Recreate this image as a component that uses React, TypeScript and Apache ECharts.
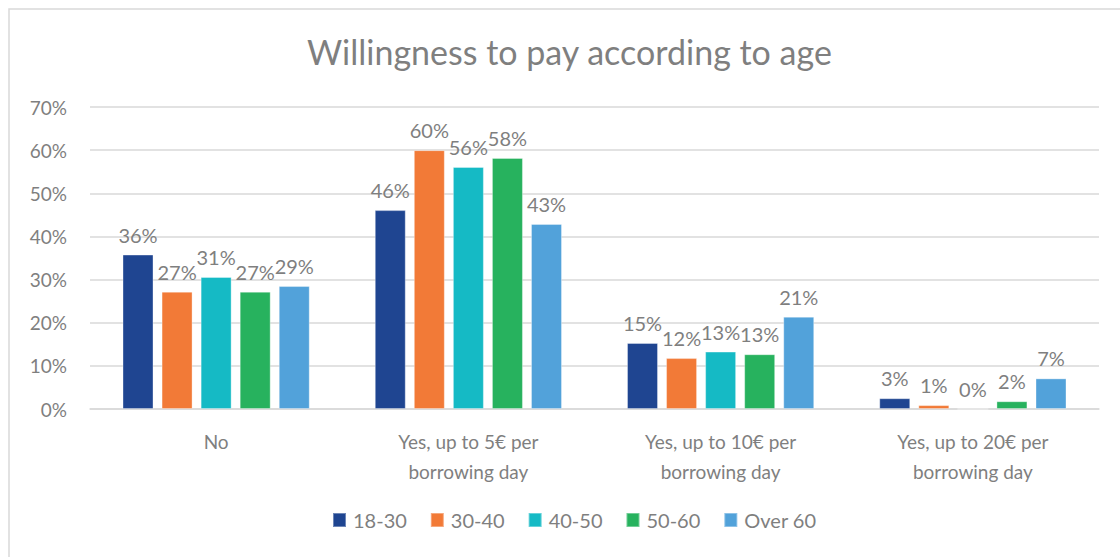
import React, { useEffect, useRef } from "react";
import * as echarts from "echarts";

const categories = [
  "No",
  "Yes, up to 5€ per\nborrowing day",
  "Yes, up to 10€ per\nborrowing day",
  "Yes, up to 20€ per\nborrowing day",
];
const seriesNames = ["18-30", "30-40", "40-50", "50-60", "Over 60"];
const age18to30 = [35.8, 46.1, 15.3, 2.5];
const age30to40 = [27.2, 60.0, 11.8, 0.9];
const age40to50 = [30.6, 56.1, 13.3, 0.0];
const age50to60 = [27.2, 58.2, 12.7, 1.8];
const ageOver60 = [28.5, 42.9, 21.4, 7.1];
const yTicks = { min: 0, max: 70, interval: 10 };
const colors = ["#1F4591", "#F27A37", "#15BAC5", "#27B25E", "#52A2DA"];

const FONT = 'Lato, "Open Sans", sans-serif';
const GRAY = "#7F7F7F";

export default function App() {
  const ref = useRef<HTMLDivElement>(null);
  useEffect(() => {
    document.body.style.margin = "0";
    const chart = echarts.init(ref.current!, null, { renderer: "svg" });
    const data = [age18to30, age30to40, age40to50, age50to60, ageOver60];
    chart.setOption({
      animation: false,
      textStyle: { fontFamily: FONT },
      title: {
        text: "Willingness to pay according to age",
        left: 302,
        top: 29,
        textStyle: { fontFamily: FONT, fontSize: 34, fontWeight: "normal", color: GRAY },
      },
      graphic: [
        {
          type: "rect",
          shape: { x: 9, y: 9, width: 1200, height: 700 },
          style: { fill: "none", stroke: "#D9D9D9", lineWidth: 1.5 },
          silent: true,
        },
      ],
      legend: {
        bottom: 22,
        left: 327,
        itemWidth: 13,
        itemHeight: 14,
        itemGap: 23,
        icon: "rect",
        textStyle: { fontFamily: FONT, fontSize: 20, color: GRAY, padding: [0, 0, 0, 2] },
        data: seriesNames,
      },
      grid: { left: 90, right: 21, top: 107, bottom: 148 },
      xAxis: {
        type: "category",
        data: categories,
        axisLine: { lineStyle: { color: "#D9D9D9", width: 1.5 } },
        axisTick: { show: false },
        axisLabel: {
          fontFamily: FONT,
          fontSize: 19,
          color: GRAY,
          margin: 17,
          lineHeight: 30,
          interval: 0,
        },
      },
      yAxis: {
        type: "value",
        min: yTicks.min,
        max: yTicks.max,
        interval: yTicks.interval,
        axisLabel: {
          fontFamily: FONT,
          fontSize: 19,
          color: GRAY,
          margin: 23,
          formatter: "{value}%",
        },
        splitLine: { lineStyle: { color: "#D9D9D9", width: 1.5 } },
        axisLine: { show: false },
        axisTick: { show: false },
      },
      series: seriesNames.map((name, i) => ({
        name,
        type: "bar",
        data: data[i],
        barWidth: 31,
        barGap: "26%",
        itemStyle: { color: colors[i], borderColor: "rgba(255,255,255,0.35)", borderWidth: 1 },
        label: {
          show: true,
          position: "top",
          distance: 10,
          fontFamily: FONT,
          fontSize: 20,
          color: GRAY,
          formatter: (p: any) => Math.round(p.value) + "%",
        },
      })),
    });
    return () => chart.dispose();
  }, []);
  return <div ref={ref} style={{ width: 1120, height: 557 }} />;
}
